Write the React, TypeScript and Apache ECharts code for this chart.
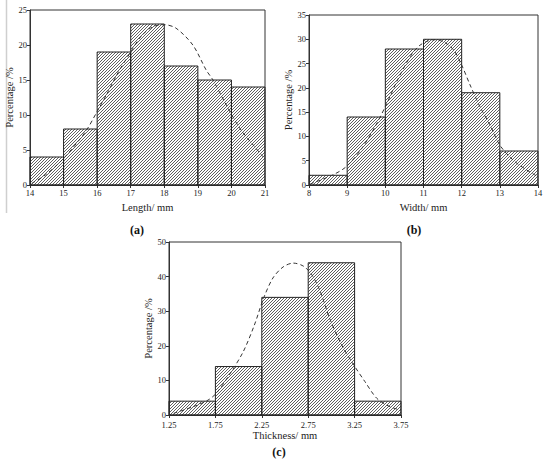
import React, { useEffect, useRef } from "react";
import * as echarts from "echarts";

// ---- Data ----
const lengthEdges = [14, 15, 16, 17, 18, 19, 20, 21];
const lengthPct = [4, 8, 19, 23, 17, 15, 14];
const lengthFitX = [14.05, 14.45, 15.0, 15.65, 16.0, 16.3, 16.64, 17.0, 17.3, 17.65, 18.0, 18.35, 18.85, 19.25, 19.45, 19.85, 20.25, 20.65, 20.95];
const lengthFitY = [0.24, 1.4, 3.8, 7.6, 10.5, 13.1, 16.2, 19, 21.2, 22.6, 22.9, 22.4, 20, 16.4, 15, 11.4, 8.1, 5.7, 4.0];

const widthEdges = [8, 9, 10, 11, 12, 13, 14];
const widthPct = [2, 14, 28, 30, 19, 7];
const widthFitX = [8.03, 8.63, 8.98, 9.38, 9.73, 10.04, 10.3, 10.65, 10.91, 11.26, 11.52, 11.79, 12.0, 12.22, 12.48, 12.74, 13.0, 13.35, 13.7, 14.0];
const widthFitY = [0.2, 2.1, 3.8, 7.5, 12, 16.8, 21.3, 26.4, 28.8, 29.9, 29.5, 27.8, 24.7, 20.6, 16.1, 12.4, 8.2, 5.1, 3.1, 1.7];

const thickEdges = [1.25, 1.75, 2.25, 2.75, 3.25, 3.75];
const thickPct = [4, 14, 34, 44, 4];
const thickFitX = [1.3, 1.51, 1.67, 1.76, 1.9, 2.05, 2.17, 2.27, 2.37, 2.48, 2.59, 2.7, 2.79, 2.88, 2.98, 3.11, 3.24, 3.36, 3.49, 3.63, 3.75];
const thickFitY = [0.5, 2.4, 4.3, 6.3, 11.6, 18.3, 26, 33.8, 39.6, 42.8, 43.9, 43, 40.5, 35.7, 28, 20.3, 14.5, 9.7, 4.8, 2.4, 1.4];

const xTitles = ["Length/ mm", "Width/ mm", "Thickness/ mm"];
const yTitle = "Percentage /%";
const panelLabels = ["(a)", "(b)", "(c)"];

const FONT = "'Liberation Serif', 'DejaVu Serif', serif";

const hatchSvg =
  "<svg xmlns='http://www.w3.org/2000/svg' width='3' height='3'>" +
  "<path d='M-1,1 L1,-1 M0,3 L3,0 M2,4 L4,2' stroke='#2a2a2a' stroke-width='0.75' fill='none'/></svg>";
const hatchUrl = "data:image/svg+xml;charset=utf-8," + encodeURIComponent(hatchSvg);

function binRows(edges: number[], vals: number[]) {
  return vals.map((v, i) => [edges[i], edges[i + 1], v]);
}
function pts(xs: number[], ys: number[]) {
  return xs.map((x, i) => [x, ys[i]]);
}

export default function App() {
  const ref = useRef<HTMLDivElement>(null);
  useEffect(() => {
    if (!ref.current) return;
    const chart = echarts.init(ref.current, null, { renderer: "svg" });
    const hatch: any = { image: hatchUrl, repeat: "repeat", imageWidth: 3, imageHeight: 3 };

    const grids = [
      { left: 30, top: 10, width: 235, height: 175 },
      { left: 309, top: 15, width: 229, height: 170 },
      { left: 169, top: 242, width: 232, height: 173 },
    ];
    const xCfg = [
      { min: 14, max: 21, interval: 1, gap: 17, lm: 3 },
      { min: 8, max: 14, interval: 1, gap: 17, lm: 3 },
      { min: 1.25, max: 3.75, interval: 0.5, gap: 14, lm: 5.5 },
    ];
    const yCfg = [
      { min: 0, max: 25, interval: 5, gap: 13 },
      { min: 0, max: 35, interval: 5, gap: 14 },
      { min: 0, max: 50, interval: 10, gap: 13 },
    ];
    const bins = [binRows(lengthEdges, lengthPct), binRows(widthEdges, widthPct), binRows(thickEdges, thickPct)];
    const fits = [pts(lengthFitX, lengthFitY), pts(widthFitX, widthFitY), pts(thickFitX, thickFitY)];

    const axisLabel = { fontFamily: FONT, fontSize: 8.5, color: "#222", margin: 3 };
    const axisLine = { show: true, lineStyle: { color: "#333", width: 1 } };
    const axisTick = { show: true, inside: false, length: 3, lineStyle: { color: "#333" } };

    const series: any[] = [];
    bins.forEach((b, i) => {
      series.push({
        type: "custom",
        xAxisIndex: i,
        yAxisIndex: i,
        data: b,
        encode: { x: [0, 1], y: 2 },
        renderItem: (params: any, api: any) => {
          const p0 = api.coord([api.value(0), api.value(2)]);
          const p1 = api.coord([api.value(1), 0]);
          return {
            type: "rect",
            shape: { x: p0[0], y: p0[1], width: p1[0] - p0[0], height: p1[1] - p0[1] },
            style: { fill: hatch, stroke: "#222", lineWidth: 1 },
          };
        },
        z: 2,
      });
      series.push({
        type: "line",
        xAxisIndex: i,
        yAxisIndex: i,
        data: fits[i],
        smooth: 0.3,
        showSymbol: false,
        symbol: "none",
        lineStyle: { color: "#333", width: 1, type: [4, 3] },
        z: 3,
      });
    });

    const labelPos = [
      [137, 230],
      [414, 230],
      [279, 452],
    ];

    chart.setOption({
      animation: false,
      backgroundColor: "#fff",
      grid: grids.map((g) => ({ ...g, show: true, borderColor: "#333", borderWidth: 1, backgroundColor: "transparent" })),
      xAxis: xCfg.map((c, i) => ({
        type: "value",
        gridIndex: i,
        min: c.min,
        max: c.max,
        interval: c.interval,
        name: xTitles[i],
        nameLocation: "middle",
        nameGap: c.gap,
        nameTextStyle: { fontFamily: FONT, fontSize: 10.5, color: "#222" },
        axisLabel: { ...axisLabel, margin: c.lm },
        axisLine,
        axisTick,
        splitLine: { show: false },
      })),
      yAxis: yCfg.map((c, i) => ({
        type: "value",
        gridIndex: i,
        min: c.min,
        max: c.max,
        interval: c.interval,
        name: yTitle,
        nameLocation: "middle",
        nameGap: c.gap,
        nameTextStyle: { fontFamily: FONT, fontSize: 10.5, color: "#222" },
        axisLabel: { ...axisLabel, padding: [0, 0, 2, 0] },
        axisLine,
        axisTick,
        splitLine: { show: false },
      })),
      series,
      graphic: [
        {
          type: "line",
          shape: { x1: 6.5, y1: 0, x2: 6.5, y2: 213 },
          style: { stroke: "#cfcfcf", lineWidth: 1.5 },
        },
        ...panelLabels.map((t, i) => ({
          type: "text",
          x: labelPos[i][0],
          y: labelPos[i][1],
          style: {
            text: t,
            fontFamily: FONT,
            fontSize: 12,
            fontWeight: "bold",
            fill: "#111",
            textAlign: "center",
            textVerticalAlign: "middle",
          },
        })),
      ],
    });
    return () => chart.dispose();
  }, []);
  return (
    <div
      ref={ref}
      style={{ position: "fixed", left: 0, top: 0, width: 550, height: 466, background: "#fff" }}
    />
  );
}
